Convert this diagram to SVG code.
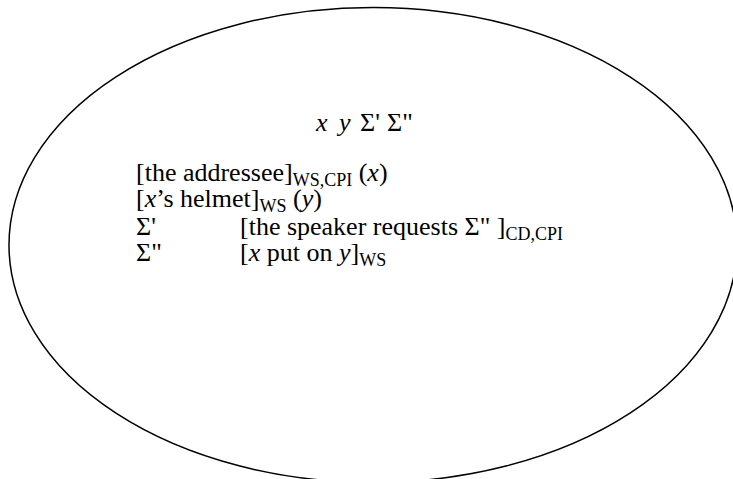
<svg xmlns="http://www.w3.org/2000/svg" width="733" height="479" viewBox="0 0 733 479">
<style>
text{font-family:"Liberation Serif","Times New Roman","DejaVu Serif",serif;font-size:26px;fill:#000}
.i{font-style:italic}
.s{font-size:18px}
</style>
<rect width="733" height="479" fill="#fff"/>
<g id="ellipse">
<ellipse cx="373" cy="245" rx="364" ry="237.5" fill="none" stroke="#000" stroke-width="1.5"/>
</g>
<g id="heading">
<text y="131"><tspan class="i" x="316">x</tspan><tspan class="i" x="339">y</tspan><tspan x="360">Σ'</tspan><tspan x="387">Σ"</tspan></text>
</g>
<g id="lines">
<text x="136" y="181">[the addressee]<tspan class="s" dy="5">WS,CPI</tspan><tspan dy="-5"> (</tspan><tspan class="i">x</tspan>)</text>
<text x="136" y="207">[<tspan class="i">x</tspan>’s helmet]<tspan class="s" dy="5">WS</tspan><tspan dy="-5"> (</tspan><tspan class="i">y</tspan>)</text>
<text x="136" y="235">Σ'</text>
<text x="240" y="235">[the speaker requests Σ" ]<tspan class="s" dy="5">CD,CPI</tspan></text>
<text x="136" y="261">Σ"</text>
<text x="240" y="261">[<tspan class="i">x</tspan> put on <tspan class="i">y</tspan>]<tspan class="s" dy="5">WS</tspan></text>
</g>
</svg>
